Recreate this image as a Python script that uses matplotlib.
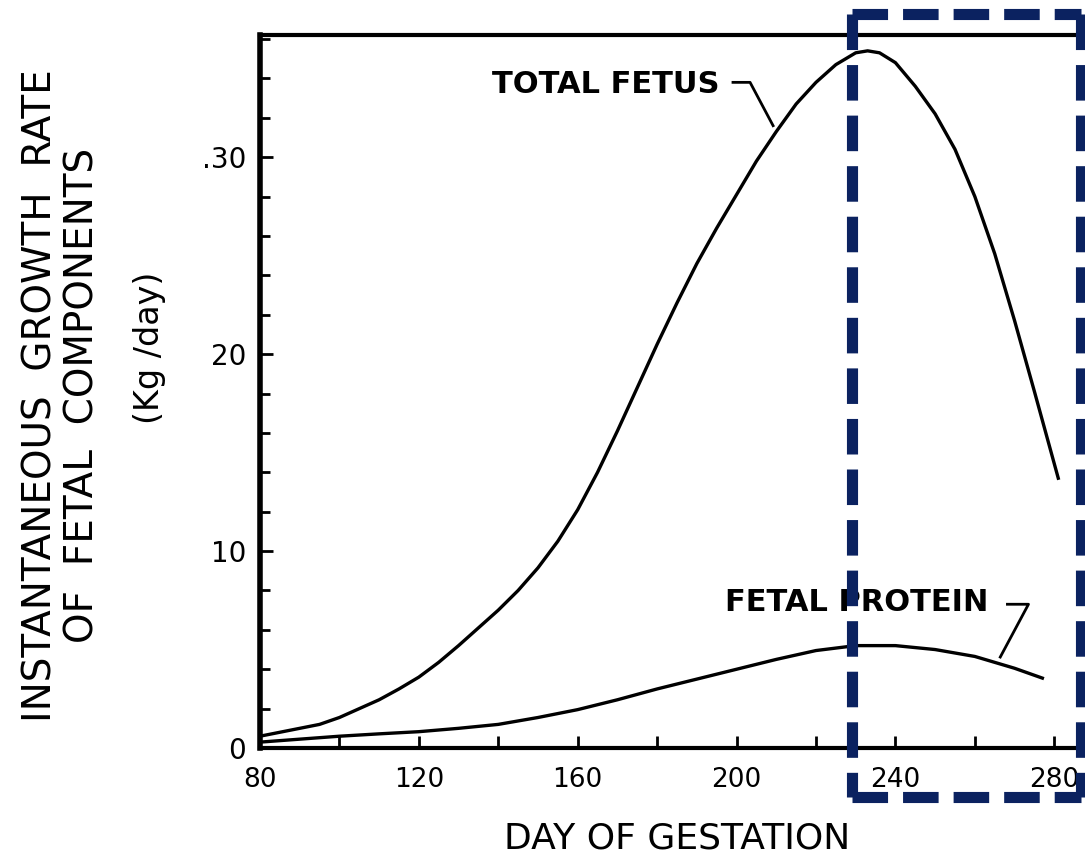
import matplotlib
matplotlib.use("Agg")
import matplotlib.pyplot as plt
from matplotlib.lines import Line2D
from matplotlib.ticker import MultipleLocator

# values
total_days = [80, 85, 90, 95, 100, 105, 110, 115, 120, 125, 130, 135, 140, 145,
              150, 155, 160, 165, 170, 175, 180, 185, 190, 195, 200, 205, 210,
              215, 220, 225, 230, 233, 236, 240, 245, 250, 255, 260, 265, 270,
              275, 281]
total_rate = [0.6, 0.8, 1.0, 1.2, 1.55, 2.0, 2.45, 3.0, 3.6, 4.35, 5.2, 6.1, 7.0, 8.0,
              9.15, 10.5, 12.1, 14.0, 16.1, 18.3, 20.5, 22.6, 24.6, 26.4, 28.1, 29.8, 31.3,
              32.7, 33.8, 34.7, 35.3, 35.4, 35.3, 34.8, 33.6, 32.2, 30.4, 28.0, 25.1, 21.7,
              18.1, 13.7]

protein_days = [80, 90, 100, 110, 120, 130, 140, 150, 160, 170, 180, 190, 200,
                210, 220, 230, 240, 250, 260, 270, 277]
protein_rate = [0.3, 0.45, 0.6, 0.72, 0.83, 1.0, 1.2, 1.55, 1.95, 2.45, 3.0, 3.5, 4.0,
                4.5, 4.95, 5.2, 5.2, 5.0, 4.65, 4.05, 3.55]

x_ticks = [80, 100, 120, 140, 160, 180, 200, 220, 240, 260, 280]
x_labels = ["80", "", "120", "", "160", "", "200", "", "240", "", "280"]
y_ticks = [0, 10, 20, 30]
y_labels = ["0", "10", "20", ".30"]

plt.rcParams["font.family"] = ["DejaVu Sans"]

fig = plt.figure(figsize=(10.85, 8.6), dpi=100)
ax = fig.add_axes([0.2396, 0.1302, 0.7687, 0.829])

ax.plot(total_days, total_rate, color="black", lw=2.4, solid_joinstyle="round")
ax.plot(protein_days, protein_rate, color="black", lw=2.4, solid_joinstyle="round")

ax.set_xlim(80, 290)
ax.set_ylim(0, 36.2)

ax.set_xticks(x_ticks)
ax.set_xticklabels(x_labels)
ax.set_yticks(y_ticks)
ax.set_yticklabels(y_labels)
ax.yaxis.set_minor_locator(MultipleLocator(2))
ax.tick_params(axis="both", which="both", direction="in", width=2, color="black")
ax.tick_params(axis="x", which="major", length=9, pad=14, labelsize=19)
ax.tick_params(axis="y", which="major", length=9, pad=10, labelsize=20)
ax.tick_params(axis="y", which="minor", length=7)
for s in ax.spines.values():
    s.set_linewidth(3)
ax.spines["left"].set_linewidth(4)

# curve labels with leader lines
ax.text(138.5, 33.7, "TOTAL FETUS", fontsize=22, fontweight="bold", va="center")
ax.plot([199.1, 203.4, 209.2], [33.8, 33.8, 31.6], color="black", lw=2)
ax.text(197, 7.4, "FETAL PROTEIN", fontsize=22, fontweight="bold", va="center")
ax.plot([268.2, 273.5, 266.4], [7.3, 7.3, 4.62], color="black", lw=2)

ax.set_xlabel("DAY OF GESTATION", fontsize=26, labelpad=20)

fig.text(0.037, 0.54, "INSTANTANEOUS  GROWTH  RATE", rotation=90, fontsize=28,
         ha="center", va="center")
fig.text(0.076, 0.54, "OF  FETAL  COMPONENTS", rotation=90, fontsize=28,
         ha="center", va="center")
fig.text(0.138, 0.595, "(Kg /day)", rotation=90, fontsize=24,
         ha="center", va="center")

# dashed highlight box, one dashed line per edge
bx0, bx1, by0, by1 = 0.785, 0.9963, 0.0733, 0.9837
box_style = dict(color="#0b2260", lw=8, linestyle=(0, (3.2, 1.35)),
                 solid_capstyle="butt", dash_capstyle="butt",
                 transform=fig.transFigure)
for xs, ys in [([bx0, bx1], [by1, by1]), ([bx0, bx0], [by1, by0]),
               ([bx1, bx1], [by1, by0]), ([bx0, bx1], [by0, by0])]:
    fig.add_artist(Line2D(xs, ys, **box_style))

fig.savefig("out.png", dpi=100)
